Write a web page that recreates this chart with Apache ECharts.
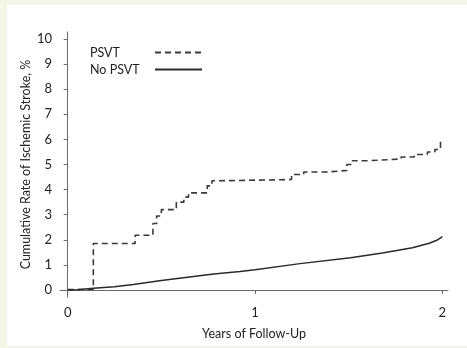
<!DOCTYPE html>
<html>
<head>
<meta charset="utf-8">
<script src="https://cdn.jsdelivr.net/npm/echarts@6/dist/echarts.min.js"></script>
<style>
html,body{margin:0;padding:0;background:#f3f6e6;}
#panel{position:absolute;left:7px;top:5px;width:460px;height:341px;background:#ffffff;}
#chart{position:absolute;left:0;top:0;width:467px;height:348px;}
</style>
</head>
<body>
<div id="panel"></div>
<div id="chart"></div>
<script>
// PSVT cumulative rate (step function: [years, %])
const psvtData = [
  [0, 0.02], [0.137, 1.85], [0.36, 2.18], [0.455, 2.65], [0.475, 2.95], [0.50, 3.2],
  [0.58, 3.5], [0.62, 3.7], [0.645, 3.87], [0.745, 4.15], [0.77, 4.35], [0.79, 4.4],
  [1.195, 4.6], [1.26, 4.7], [1.375, 4.76], [1.49, 5.0], [1.52, 5.15], [1.60, 5.22],
  [1.78, 5.3], [1.85, 5.4], [1.92, 5.5], [1.96, 5.6], [1.99, 5.9], [2.0, 5.9]
];
// No PSVT cumulative rate
const noPsvtData = [
  [0, 0], [0.05, 0.01], [0.137, 0.07], [0.25, 0.13], [0.35, 0.22], [0.5, 0.38],
  [0.65, 0.52], [0.78, 0.64], [0.92, 0.74], [1.0, 0.81], [1.24, 1.05], [1.51, 1.28],
  [1.68, 1.47], [1.84, 1.68], [1.93, 1.86], [1.97, 1.98], [2.0, 2.13]
];
const xTicks = [0, 1, 2];
const yTicks = [0, 1, 2, 3, 4, 5, 6, 7, 8, 9, 10];
const seriesNames = ['PSVT', 'No PSVT'];

const FONT = 'Lato';
const TXT = '#222';
const chart = echarts.init(document.getElementById('chart'), null, {renderer: 'canvas'});
chart.setOption({
  backgroundColor: 'transparent',
  animation: false,
  textStyle: {fontFamily: FONT},
  grid: {left: 60, right: 19, top: 32, bottom: 51, containLabel: false},
  legend: {
    orient: 'vertical', left: 85, top: 41, align: 'right',
    itemWidth: 47, itemHeight: 14, itemGap: 4,
    data: seriesNames,
    itemStyle: {opacity: 0},
    formatter: function (name) { return '{a|' + name + '}'; },
    textStyle: {
      fontFamily: FONT, fontSize: 12.5, color: TXT,
      rich: {a: {width: 60, align: 'left', fontFamily: FONT, fontSize: 12.5, color: TXT}}
    }
  },
  xAxis: {
    type: 'value', min: -0.041, max: 2.03,
    name: 'Years of Follow-Up', nameLocation: 'middle', nameGap: 30, nameMoveOverlap: false,
    nameTextStyle: {fontFamily: FONT, fontSize: 12.5, color: TXT},
    axisLine: {show: true, lineStyle: {color: '#6a6a6a', width: 1}},
    axisTick: {show: true, length: 4, customValues: xTicks, lineStyle: {color: '#6a6a6a'}},
    axisLabel: {customValues: xTicks, margin: 9, fontSize: 13, color: TXT, fontFamily: FONT},
    splitLine: {show: false}
  },
  yAxis: {
    type: 'value', min: -0.28, max: 10.28,
    name: 'Cumulative Rate of Ischemic Stroke, %', nameLocation: 'middle', nameGap: 28, nameMoveOverlap: false,
    nameTextStyle: {fontFamily: FONT, fontSize: 12.5, color: TXT},
    axisLine: {show: true, lineStyle: {color: '#6a6a6a', width: 1}},
    axisTick: {show: true, length: 4, customValues: yTicks, lineStyle: {color: '#6a6a6a'}},
    axisLabel: {customValues: yTicks, margin: 8, fontSize: 13, color: TXT, fontFamily: FONT},
    splitLine: {show: false}
  },
  series: [
    {
      name: seriesNames[0], type: 'line', step: 'end', symbol: 'none',
      data: psvtData,
      lineStyle: {color: '#3a3a3a', width: 1.6, type: [6, 4]},
      itemStyle: {color: '#3a3a3a'}
    },
    {
      name: seriesNames[1], type: 'line', symbol: 'none',
      data: noPsvtData,
      lineStyle: {color: '#2a2a2a', width: 1.5, type: 'solid'},
      itemStyle: {color: '#2a2a2a'}
    }
  ]
});
</script>
</body>
</html>
